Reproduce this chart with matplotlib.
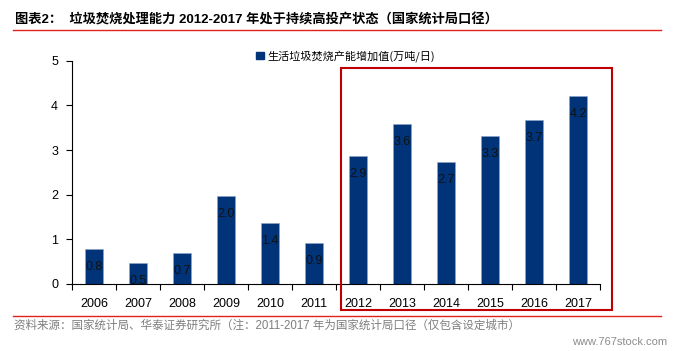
import matplotlib.pyplot as plt
from matplotlib.patches import Rectangle
from matplotlib.lines import Line2D

plt.rcParams['font.family'] = ['Liberation Sans', 'Noto Sans CJK SC', 'DejaVu Sans']

# data
years = ['2006', '2007', '2008', '2009', '2010', '2011',
         '2012', '2013', '2014', '2015', '2016', '2017']
values = [0.79, 0.47, 0.69, 1.97, 1.37, 0.91, 2.86, 3.59, 2.74, 3.31, 3.67, 4.22]
series_name = '生活垃圾焚烧产能增加值(万吨/日)'
title = '图表2：  垃圾焚烧处理能力 2012-2017 年处于持续高投产状态（国家统计局口径）'
source = '资料来源：国家统计局、华泰证券研究所（注：2011-2017 年为国家统计局口径（仅包含设定城市）'

W, H = 677, 351
fig = plt.figure(figsize=(W / 100, H / 100), dpi=100)
ax = fig.add_axes([72 / W, 1 - 284 / H, (600 - 72) / W, (284 - 60.7) / H])

x = range(len(years))
bars = ax.bar(x, values, width=0.39, color='#003378', edgecolor='#8FA6C8', linewidth=0.4,
              label=series_name)
for xi, v in zip(x, values):
    ax.annotate(f'{v:.1f}', (xi, v), xytext=(0, -13), textcoords='offset points',
                ha='center', va='center', fontsize=9, color='#111111')

ax.set_xlim(-0.5, len(years) - 0.5)
ax.set_ylim(0, 5)
ax.set_yticks([0, 1, 2, 3, 4, 5])
ax.tick_params(axis='y', direction='out', length=4, labelsize=9, pad=6)
ax.set_xticks([i - 0.5 for i in range(len(years) + 1)])
ax.set_xticklabels([])
ax.set_xticks(list(x), minor=True)
ax.set_xticklabels(years, minor=True)
ax.tick_params(axis='x', which='major', direction='out', length=4)
ax.tick_params(axis='x', which='minor', length=0, labelsize=9, pad=10)
for s in ['top', 'right']:
    ax.spines[s].set_visible(False)

# legend
fig.legend(handles=[Rectangle((0, 0), 1, 1, color='#003378')], labels=[series_name],
           loc='center left', bbox_to_anchor=(246 / W, 1 - 56 / H), frameon=False,
           handlelength=0.7, handleheight=0.7, handletextpad=0.3,
           prop={'family': 'Noto Sans CJK SC', 'size': 8})

# red highlight box
fig.patches.append(Rectangle((341 / W, 1 - 310 / H), (612 - 341) / W, (310 - 68) / H,
                             transform=fig.transFigure, fill=False,
                             edgecolor='#C00000', linewidth=1.5))

# title and lines
fig.text(15 / W, 1 - 20 / H, title, fontsize=9.5, fontweight='bold', va='center',
         family=['Liberation Sans', 'Noto Sans CJK SC'])
fig.lines.append(Line2D([13 / W, 661 / W], [1 - 30 / H, 1 - 30 / H],
                        transform=fig.transFigure, color='#E2231A', linewidth=1))
fig.lines.append(Line2D([13 / W, 661 / W], [1 - 316 / H, 1 - 316 / H],
                        transform=fig.transFigure, color='#E2231A', linewidth=1))
fig.text(14 / W, 1 - 326 / H, source, fontsize=8.3, color='#7F7F7F', va='center',
         family=['Liberation Sans', 'Noto Sans CJK SC'])
fig.text(667 / W, 1 - 342 / H, 'www.767stock.com', fontsize=8, color='#8C8C8C',
         va='center', ha='right')

fig.savefig('out.png', dpi=100)
